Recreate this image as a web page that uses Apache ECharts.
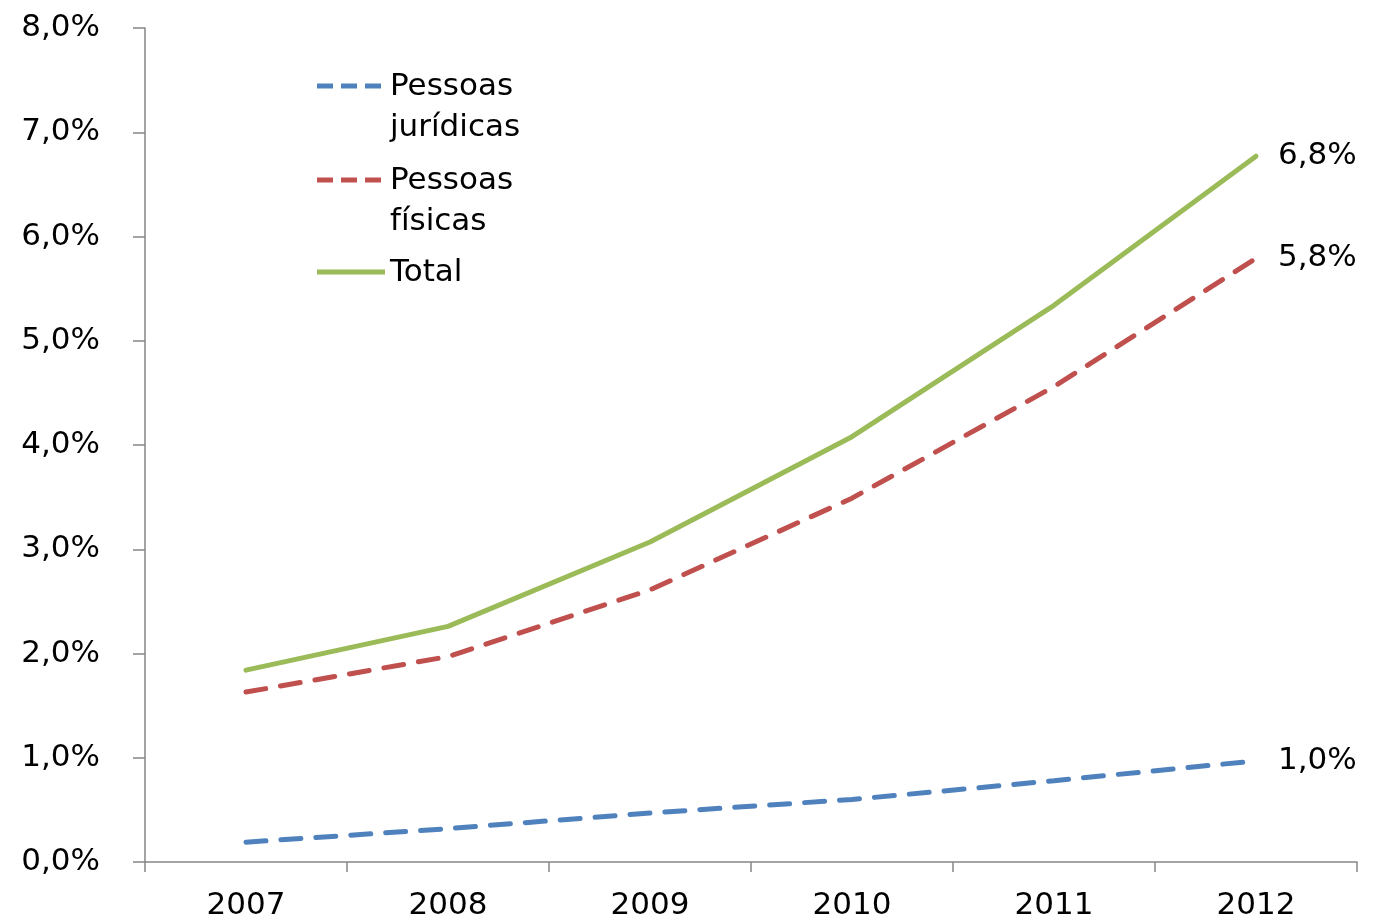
<!DOCTYPE html>
<html><head><meta charset="utf-8">
<script src="https://cdn.jsdelivr.net/npm/echarts@6/dist/echarts.min.js"></script>
<style>html,body{margin:0;padding:0;background:#fff}#c{width:1375px;height:923px}</style>
</head><body><div id="c"></div>
<script>
const categories = ['2007','2008','2009','2010','2011','2012'];
const juridicas = [0.19, 0.32, 0.47, 0.60, 0.78, 0.97];
const fisicas = [1.63, 1.97, 2.61, 3.49, 4.56, 5.79];
const total = [1.84, 2.26, 3.07, 4.08, 5.34, 6.77];
const seriesNames = ['Pessoas\njurídicas', 'Pessoas\nfísicas', 'Total'];
const colors = ['#4F81BD', '#C0504D', '#9BBB59'];
const FONT = 'DejaVu Sans';
const FS = 31;

const chart = echarts.init(document.getElementById('c'), null, {renderer: 'canvas'});
const fmt = v => v.toFixed(1).replace('.', ',') + '%';
function mk(name, data, color, dashed) {
  return {
    name, type: 'line', data, symbol: 'none', smooth: false,
    lineStyle: {color, width: 5, type: dashed ? [20, 15] : 'solid', cap: 'round'},
    itemStyle: {color},
    label: {show: false},
    endLabel: {show: true, formatter: p => fmt(Math.round(p.value * 10) / 10),
      fontFamily: FONT, fontSize: FS, color: '#000', distance: 22}
  };
}
const legendItems = [];
const legendY = [86, 180, 272];
seriesNames.forEach((n, i) => {
  legendItems.push({type: 'line', shape: {x1: 317, y1: legendY[i], x2: 385, y2: legendY[i]},
    style: {stroke: colors[i], lineWidth: 5, lineDash: i < 2 ? [16, 8] : null}});
  legendItems.push({type: 'text', x: 390, y: legendY[i] - 20,
    style: {text: n, font: FS + 'px "' + FONT + '"', fill: '#000', lineHeight: 41, textVerticalAlign: 'top'}});
});
chart.setOption({
  animation: false,
  grid: {left: 145, right: 18, top: 28, bottom: 61, containLabel: false},
  xAxis: {type: 'category', data: categories, boundaryGap: true,
    axisLine: {lineStyle: {color: '#868686', width: 1.5}},
    axisTick: {show: true, length: 10, inside: false, alignWithLabel: false, lineStyle: {color: '#868686', width: 1.5}},
    axisLabel: {fontFamily: FONT, fontSize: FS, color: '#000', margin: 28}},
  yAxis: {type: 'value', min: 0, max: 8, interval: 1,
    axisLine: {show: true, lineStyle: {color: '#868686', width: 1.5}},
    axisTick: {show: true, length: 12, lineStyle: {color: '#868686', width: 1.5}},
    splitLine: {show: false},
    axisLabel: {fontFamily: FONT, fontSize: FS, color: '#000', margin: 45, formatter: v => fmt(v)}},
  graphic: legendItems,
  series: [mk(seriesNames[0], juridicas, colors[0], true), mk(seriesNames[1], fisicas, colors[1], true), mk(seriesNames[2], total, colors[2], false)]
});
</script></body></html>
